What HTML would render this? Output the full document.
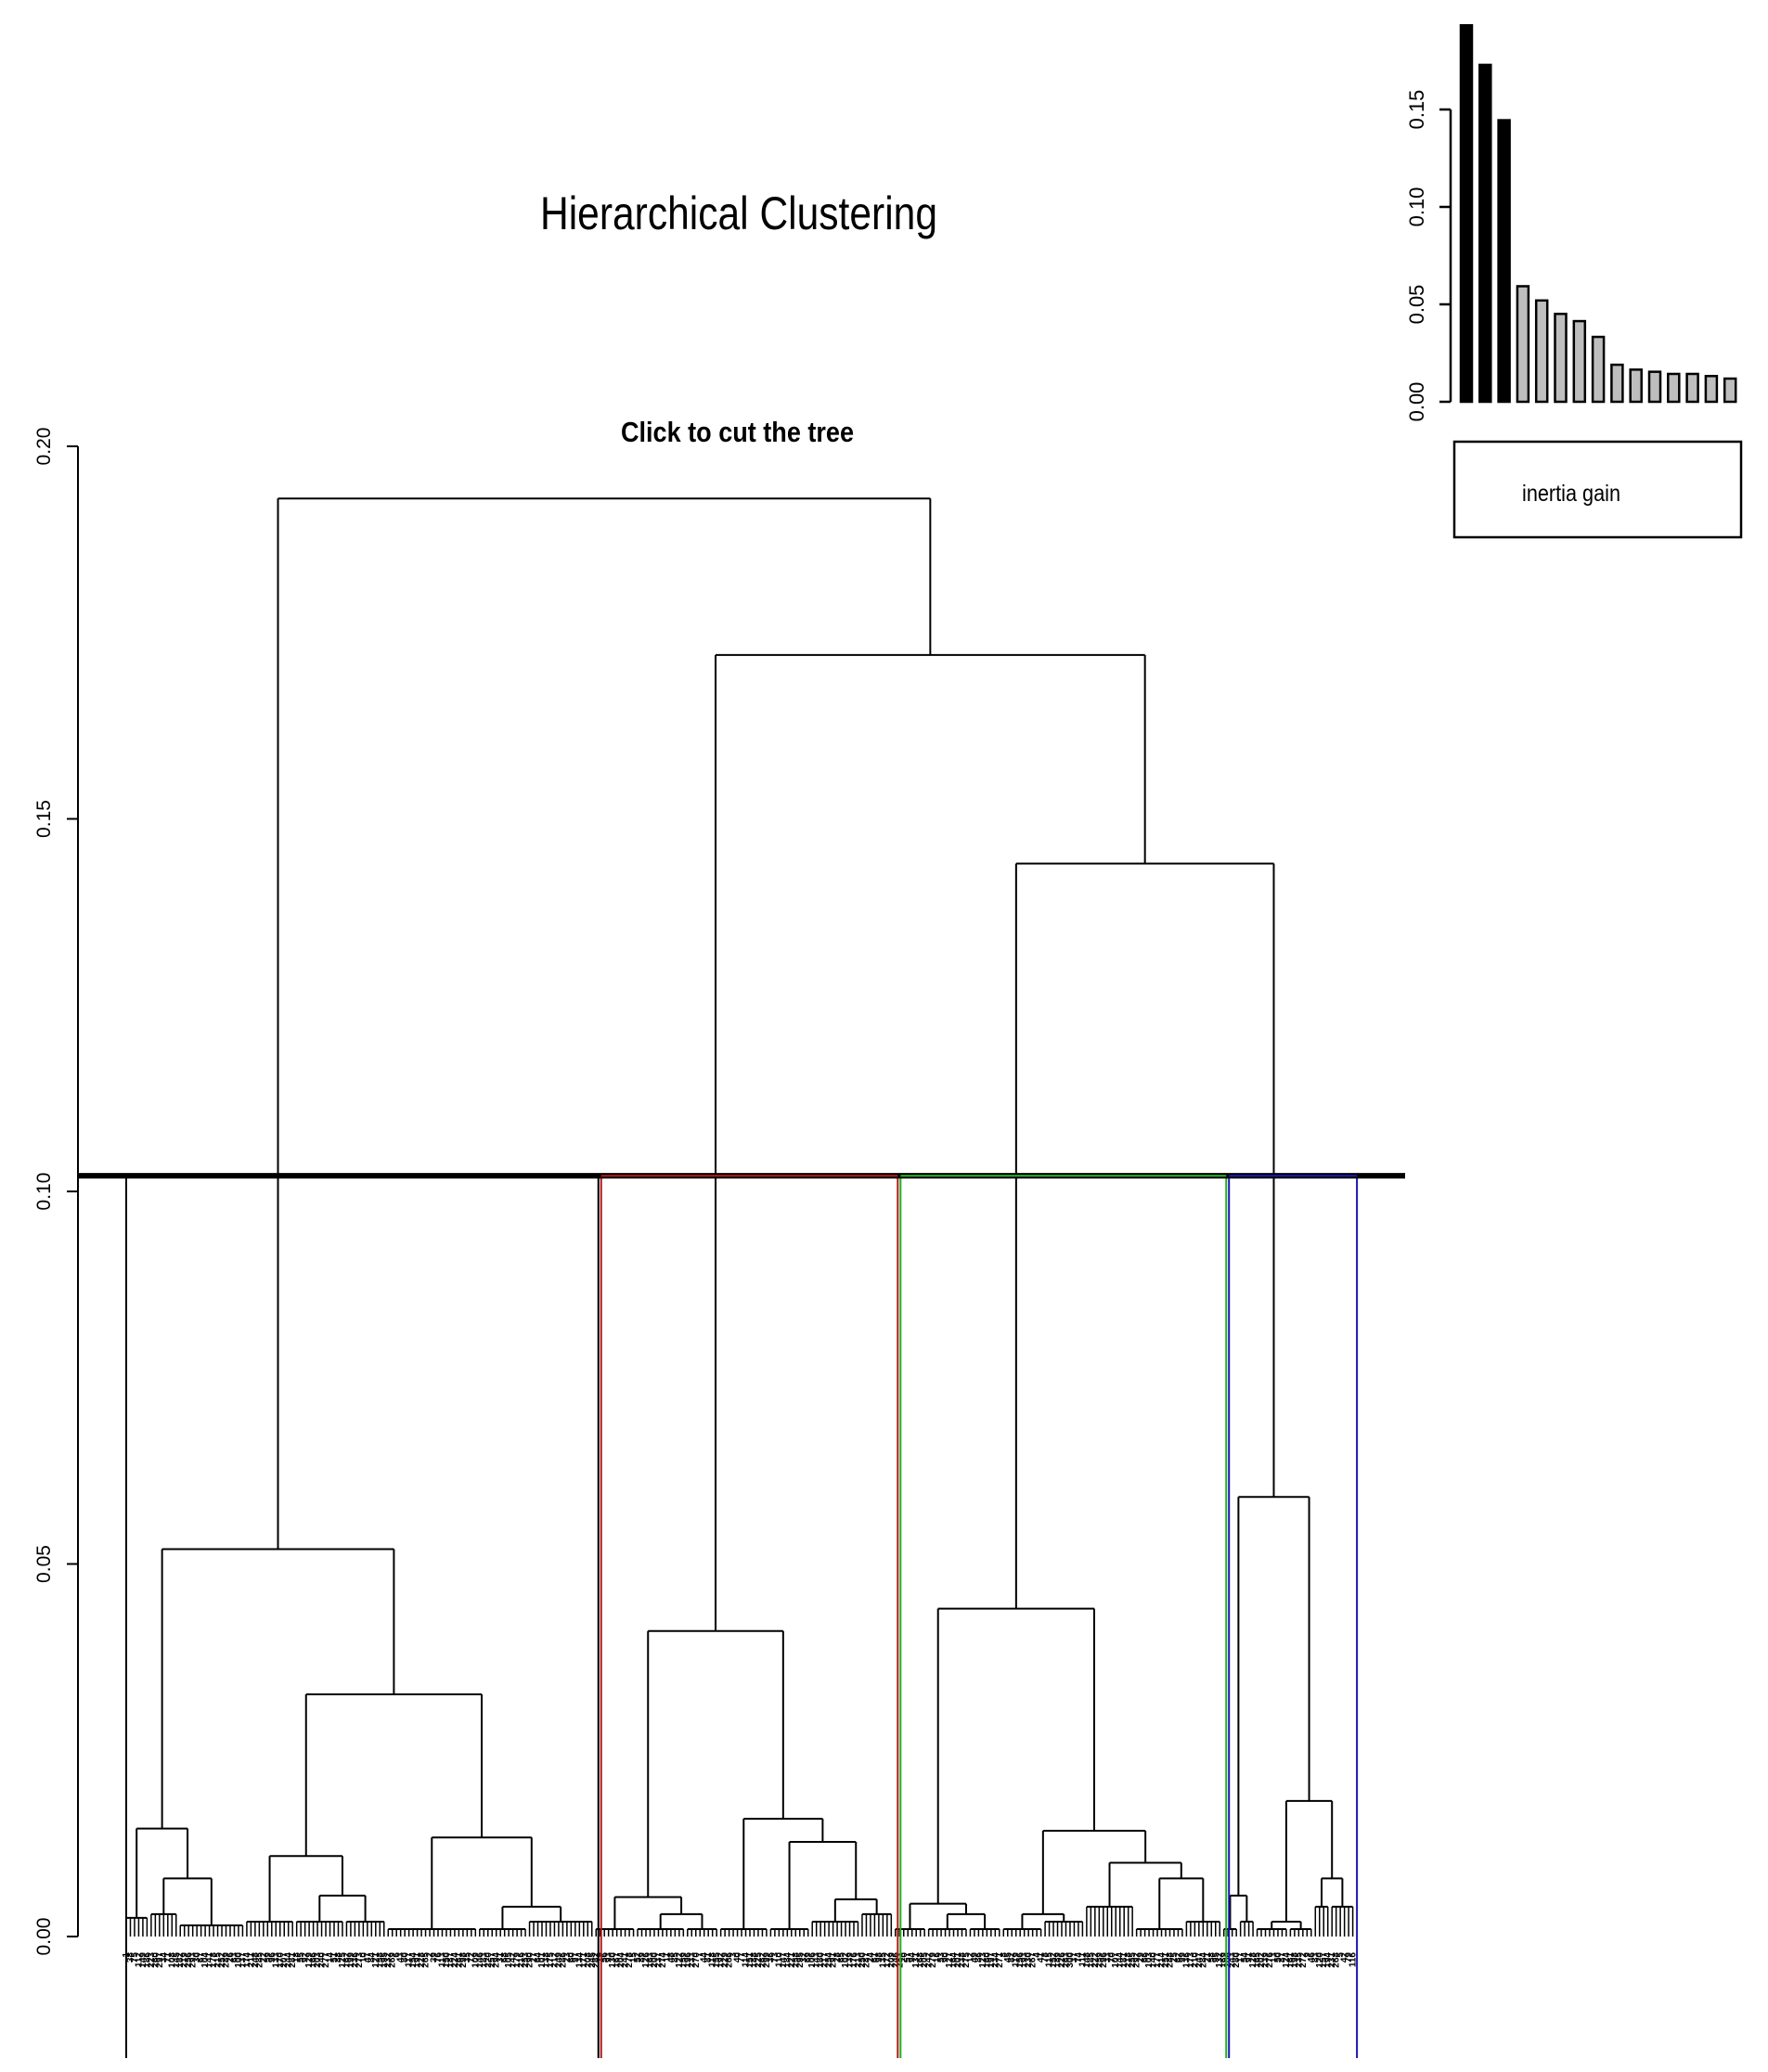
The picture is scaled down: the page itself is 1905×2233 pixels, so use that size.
<!DOCTYPE html>
<html><head><meta charset="utf-8"><title>Hierarchical Clustering</title>
<style>html,body{margin:0;padding:0;background:#fff}svg{display:block}text{font-family:"Liberation Sans",sans-serif}</style>
</head><body>
<svg id="chart" width="1905" height="2233" viewBox="0 0 1905 2233" xmlns="http://www.w3.org/2000/svg">
<text x="582" y="247" font-size="50" textLength="428" lengthAdjust="spacingAndGlyphs">Hierarchical Clustering</text>
<text x="669" y="476" font-size="31" font-weight="bold" textLength="251" lengthAdjust="spacingAndGlyphs">Click to cut the tree</text>
<g id="dendro"></g>
<g id="inset"></g>
</svg>
<script>
// ---- dendrogram data: [height, left, right]; leaf bundle: [height, leafCount]
const cl1 = [0.052,
  [0.0145, [0.0025, 6], [0.0078, [0.003, 7], [0.0015, 16]]],
  [0.0325,
    [0.0108, [0.002, 12], [0.0055, [0.002, 12], [0.002, 10]]],
    [0.0133, [0.001, 22], [0.004, [0.001, 12], [0.002, 16]]]]];
const cl2 = [0.041,
  [0.0053, [0.001, 10], [0.003, [0.001, 12], [0.001, 8]]],
  [0.0158, [0.001, 12], [0.0127, [0.001, 10], [0.005, [0.002, 12], [0.003, 8]]]]];
const cl3 = [0.044,
  [0.0044, [0.001, 8], [0.003, [0.001, 10], [0.001, 8]]],
  [0.0142, [0.003, [0.001, 10], [0.002, 10]], [0.0099, [0.004, 12], [0.0078, [0.001, 12], [0.002, 9]]]]];
const cl4 = [0.059,
  [0.0055, [0.001, 4], [0.002, 4]],
  [0.0182, [0.002, [0.001, 8], [0.001, 6]], [0.0078, [0.004, 4], [0.004, 6]]]];
const topHeights = [0.193, 0.172, 0.144];
const cutHeight = 0.1021;
const clusterColors = ["#000000", "#b01818", "#20b020", "#1818b0"];
const yTicks = [0, 0.05, 0.10, 0.15, 0.20];
const yTickLabels = ["0.00", "0.05", "0.10", "0.15", "0.20"];
// ---- inset data
const gainValues = [0.1932, 0.1729, 0.1445, 0.0593, 0.052, 0.0451, 0.0414, 0.0333, 0.019, 0.0165, 0.0154, 0.0143, 0.0143, 0.0132, 0.0119];
const gainTicks = [0, 0.05, 0.10, 0.15];
const gainTickLabels = ["0.00", "0.05", "0.10", "0.15"];
const nHighlighted = 3;

const NS = "http://www.w3.org/2000/svg";
function mk(tag, attrs, parent) { const e = document.createElementNS(NS, tag); for (const k in attrs) e.setAttribute(k, attrs[k]); parent.appendChild(e); return e; }
const yS = v => 2087 - v * 8030;
const xS = i => 136 + 4.48 * i;
const D = document.getElementById('dendro');

const tree = [topHeights[0], cl1, [topHeights[1], cl2, [topHeights[2], cl3, cl4]]];
let leafIdx = 0;
function layout(node) {
  if (typeof node[1] === 'number') {
    const start = leafIdx; leafIdx += node[1];
    return { x: (xS(start) + xS(leafIdx - 1)) / 2, h: node[0], bundle: true, start: start, n: node[1] };
  }
  const l = layout(node[1]), r = layout(node[2]);
  return { x: (l.x + r.x) / 2, h: node[0], l: l, r: r };
}
const root = layout(tree);
const totalLeaves = leafIdx;
function line(x1, y1, x2, y2, parent, w, c) { return mk('line', { x1: x1, y1: y1, x2: x2, y2: y2, stroke: c || '#000', 'stroke-width': w || 2 }, parent); }
function draw(n) {
  const yy = yS(n.h);
  if (n.bundle) {
    const x0 = xS(n.start), x1 = xS(n.start + n.n - 1);
    const g = mk('g', {}, D);
    
    
    line(x0, yy, x1, yy, g, 2);
    for (let i = n.start; i < n.start + n.n; i++) line(xS(i), yy, xS(i), yS(0), g, 1.5);
    return;
  }
  const g = mk('g', {}, D);
  
  
  line(n.l.x, yy, n.r.x, yy, g, 2);
  line(n.l.x, yy, n.l.x, yS(n.l.h), g, 2);
  line(n.r.x, yy, n.r.x, yS(n.r.h), g, 2);
  draw(n.l); draw(n.r);
}
draw(root);

// leaf labels (tiny rotated ids)
const lab = mk('g', { 'font-size': '10' }, D);


for (let i = 0; i < totalLeaves; i++) {
  const t = mk('text', { x: 0, y: 0, transform: 'translate(' + (xS(i) + 3) + ',2104) rotate(-90)', 'text-anchor': 'end', 'font-weight': 'bold' }, lab);
  t.textContent = String((i * 37) % 300 + 1);
}

// axis
const ax = mk('g', {}, D);


line(84, yS(0), 84, yS(0.2), ax, 2);
yTicks.forEach((v, k) => {
  line(72, yS(v), 84, yS(v), ax, 2);
  const t = mk('text', { transform: 'translate(54,' + yS(v) + ') rotate(-90)', 'text-anchor': 'middle', 'font-size': '21' }, ax);
  
  
  t.textContent = yTickLabels[k];
});

// cluster boundaries
const clusterNodes = [root.l, root.r.l, root.r.r.l, root.r.r.r];
function leafRange(n) { if (n.bundle) return [n.start, n.start + n.n - 1]; const a = leafRange(n.l), b = leafRange(n.r); return [a[0], b[1]]; }
const ranges = clusterNodes.map(leafRange);
const bounds = ranges.map((r, k) => k === 0 ? xS(r[0]) : xS(r[0]) + 4);
bounds.push(xS(ranges[ranges.length - 1][1]) + 6);
clusterNodes.forEach((cn, k) => {
  const x0 = bounds[k] + (k ? 1.5 : 0), x1 = bounds[k + 1] - 1.5;
  const g = mk('g', {}, D);
  
  
  line(x0, yS(cutHeight), x0, 2218, g, 2, clusterColors[k]);
  line(x1, yS(cutHeight), x1, 2218, g, 2, clusterColors[k]);
});
const cut = line(84, yS(cutHeight), 1514, yS(cutHeight), D, 6);


clusterNodes.forEach((cn, k) => {
  if (k === 0) return;
  const s = line(bounds[k] + 1.5, yS(cutHeight), bounds[k + 1] - 1.5, yS(cutHeight), D, 2, clusterColors[k]);
  
  
});

// ---- inset barplot
const I = document.getElementById('inset');
const iy = v => 433 - v * 2100;
const ix = i => 1574 + 20.3 * i;
line(1563, iy(0), 1563, iy(0.15), I, 2.5);
gainTicks.forEach((v, k) => {
  line(1551, iy(v), 1563, iy(v), I, 2.5);
  const t = mk('text', { transform: 'translate(1534,' + iy(v) + ') rotate(-90)', 'text-anchor': 'middle', 'font-size': '22' }, I);
  
  
  t.textContent = gainTickLabels[k];
});
gainValues.forEach((v, i) => {
  const b = mk('rect', { x: ix(i), y: iy(v), width: 12, height: iy(0) - iy(v), fill: i < nHighlighted ? '#000' : '#bebebe', stroke: '#000', 'stroke-width': 2.5 }, I);
  
  
});
const lb = mk('rect', { x: 1567, y: 476, width: 309, height: 103, fill: 'none', stroke: '#000', 'stroke-width': 2.5 }, I);


const lt = mk('text', { x: 1640, y: 540, 'font-size': '25', textLength: '106', lengthAdjust: 'spacingAndGlyphs' }, I);


lt.textContent = 'inertia gain';
</script>
</body></html>
